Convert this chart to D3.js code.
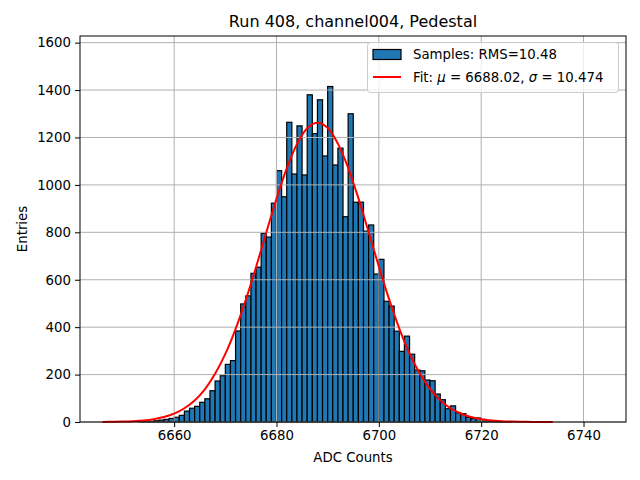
<!DOCTYPE html>
<html>
<head>
<meta charset="utf-8">
<script src="https://cdn.jsdelivr.net/npm/d3@7"></script>
<style>
  body { margin: 0; background: #fff; }
  svg { font-family: "DejaVu Sans", sans-serif; }
</style>
</head>
<body>
<svg width="640" height="480"></svg>
<script>
// Histogram bins (left edge, width 1) and counts
const binStarts = [6653, 6654, 6655, 6656, 6657, 6658, 6659, 6660, 6661, 6662,
  6663, 6664, 6665, 6666, 6667, 6668, 6669, 6670, 6671, 6672,
  6673, 6674, 6675, 6676, 6677, 6678, 6679, 6680, 6681, 6682,
  6683, 6684, 6685, 6686, 6687, 6688, 6689, 6690, 6691, 6692,
  6693, 6694, 6695, 6696, 6697, 6698, 6699, 6700, 6701, 6702,
  6703, 6704, 6705, 6706, 6707, 6708, 6709, 6710, 6711, 6712,
  6713, 6714, 6715, 6716, 6717, 6718, 6719, 6720, 6721, 6722,
  6723, 6724, 6725];
const counts = [1, 2, 3, 5, 8, 11, 15, 20, 28, 46,
  58, 66, 83, 98, 132, 173, 195, 243, 259, 384,
  498, 532, 627, 653, 796, 780, 923, 1060, 950, 1264,
  1046, 1249, 1042, 1380, 1216, 1359, 1122, 1415, 1084, 1155,
  866, 1300, 927, 927, 805, 831, 624, 686, 509, 489,
  383, 298, 362, 286, 219, 216, 177, 174, 118, 94,
  56, 68, 39, 35, 20, 15, 17, 11, 6, 3,
  2, 1, 1];

// Fit curve, points
const fitX = [6646, 6648, 6650, 6652, 6654, 6656, 6658, 6660, 6662, 6664,
  6666, 6668, 6670, 6672, 6674, 6676, 6678, 6680, 6682, 6684,
  6686, 6688, 6690, 6692, 6694, 6696, 6698, 6700, 6702, 6704,
  6706, 6708, 6710, 6712, 6714, 6716, 6718, 6720, 6722, 6724,
  6726, 6728, 6730, 6732, 6734];
const fitY = [0.4, 0.9, 1.7, 3.4, 6.5, 12, 21, 35, 58, 91,
  138, 203, 287, 392, 515, 653, 799, 941, 1070, 1172,
  1239, 1262, 1240, 1174, 1072, 944, 801, 656, 518, 394,
  289, 205, 140, 92, 58, 36, 21, 12, 6.5, 3.5,
  1.8, 0.9, 0.4, 0.2, 0.1];

const xTicks = [6660, 6680, 6700, 6720, 6740];
const yTicks = [0, 200, 400, 600, 800, 1000, 1200, 1400, 1600];

const titleText = "Run 408, channel004, Pedestal";
const samplesLabel = "Samples: RMS=10.48";

const svg = d3.select("svg"),
  width = +svg.attr("width"),
  height = +svg.attr("height");

const margin = { top: 36, right: 14, bottom: 58, left: 80 };
const innerW = width - margin.left - margin.right,
  innerH = height - margin.top - margin.bottom;

const x = d3.scaleLinear().domain([6641.6, 6748.3]).range([margin.left, margin.left + innerW]);
const y = d3.scaleLinear().domain([0, 1628]).range([margin.top + innerH, margin.top]);

// bars
svg.append("g")
  .selectAll("rect")
  .data(binStarts)
  .enter()
  .append("rect")
  .attr("x", d => x(d))
  .attr("y", (d, i) => y(counts[i]))
  .attr("width", d => x(d + 1) - x(d))
  .attr("height", (d, i) => y(0) - y(counts[i]))
  .attr("fill", "#1f77b4")
  .attr("stroke", "#000")
  .attr("stroke-width", 1.2);

// grid (drawn over the bars like the reference)
const grid = svg.append("g").attr("stroke", "#b0b0b0").attr("stroke-width", 1);
grid.selectAll(".gx")
  .data(xTicks)
  .enter()
  .append("line")
  .attr("x1", d => x(d)).attr("x2", d => x(d))
  .attr("y1", margin.top).attr("y2", margin.top + innerH);
grid.selectAll(".gy")
  .data(yTicks)
  .enter()
  .append("line")
  .attr("x1", margin.left).attr("x2", margin.left + innerW)
  .attr("y1", d => y(d)).attr("y2", d => y(d));

// fit line
const line = d3.line()
  .x(d => x(d[0]))
  .y(d => y(d[1]))
  .curve(d3.curveCatmullRom);
svg.append("path")
  .datum(fitX.map((v, i) => [v, fitY[i]]))
  .attr("d", line)
  .attr("fill", "none")
  .attr("stroke", "red")
  .attr("stroke-width", 2);

// axes
const xAxis = svg.append("g")
  .attr("transform", `translate(0,${margin.top + innerH})`)
  .call(d3.axisBottom(x).tickValues(xTicks).tickSize(5).tickPadding(4).tickFormat(d3.format("d")));
const yAxis = svg.append("g")
  .attr("transform", `translate(${margin.left},0)`)
  .call(d3.axisLeft(y).tickValues(yTicks).tickSize(5).tickPadding(4).tickFormat(d3.format("d")));
[xAxis, yAxis].forEach(a => {
  a.select(".domain").remove();
  a.selectAll("text").attr("font-size", "13.3px").attr("fill", "#000").attr("font-family", "DejaVu Sans");
  a.selectAll("line").attr("stroke", "#000").attr("stroke-width", 1);
});

// frame
svg.append("rect")
  .attr("x", margin.left).attr("y", margin.top)
  .attr("width", innerW).attr("height", innerH)
  .attr("fill", "none").attr("stroke", "#000").attr("stroke-width", 1);

// labels
svg.append("text")
  .attr("x", margin.left + innerW / 2).attr("y", 27)
  .attr("text-anchor", "middle").attr("font-size", "16px")
  .text(titleText);
svg.append("text")
  .attr("x", margin.left + innerW / 2).attr("y", 462)
  .attr("text-anchor", "middle").attr("font-size", "13.3px")
  .text("ADC Counts");
svg.append("text")
  .attr("transform", `translate(27,${margin.top + innerH / 2}) rotate(-90)`)
  .attr("text-anchor", "middle").attr("font-size", "13.3px")
  .text("Entries");

// legend
const lg = svg.append("g");
lg.append("rect")
  .attr("x", 367.5).attr("y", 42.5).attr("width", 251).attr("height", 50)
  .attr("rx", 3)
  .attr("fill", "#fff").attr("fill-opacity", 0.8)
  .attr("stroke", "#cccccc").attr("stroke-width", 1);
lg.append("rect")
  .attr("x", 373).attr("y", 49.5).attr("width", 28).attr("height", 10)
  .attr("fill", "#1f77b4").attr("stroke", "#000").attr("stroke-width", 1.2);
lg.append("text")
  .attr("x", 413).attr("y", 59).attr("font-size", "13.3px")
  .text(samplesLabel);
lg.append("line")
  .attr("x1", 373).attr("x2", 401).attr("y1", 77).attr("y2", 77)
  .attr("stroke", "red").attr("stroke-width", 2);
const fitLabel = lg.append("text")
  .attr("x", 413).attr("y", 82).attr("font-size", "13.3px");
fitLabel.append("tspan").text("Fit: ");
fitLabel.append("tspan").attr("font-style", "italic").text("μ");
fitLabel.append("tspan").text(" = 6688.02, ");
fitLabel.append("tspan").attr("font-style", "italic").text("σ");
fitLabel.append("tspan").text(" = 10.474");
</script>
</body>
</html>
